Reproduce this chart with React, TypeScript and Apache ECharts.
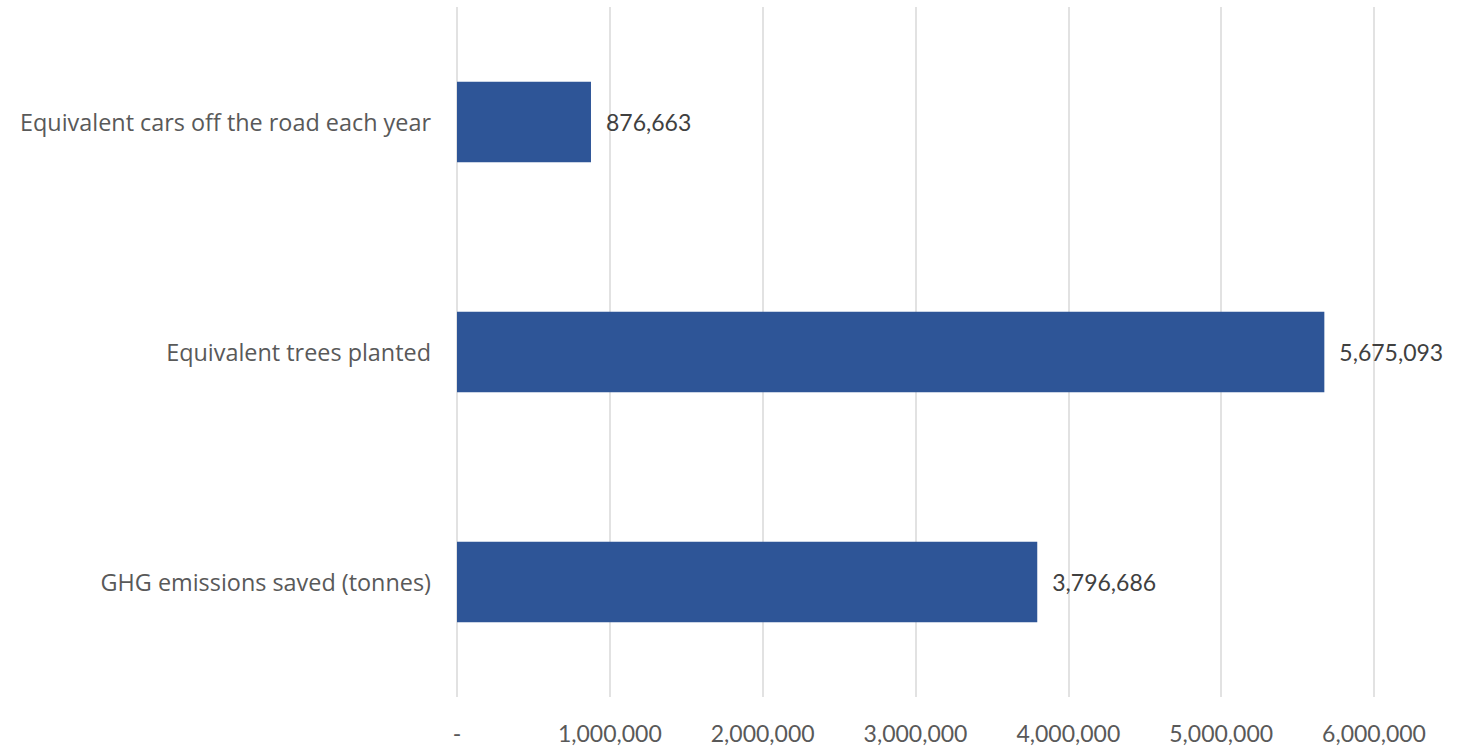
import React, { useEffect, useRef } from "react";
import * as echarts from "echarts";

const categories = [
  "Equivalent cars off the road each year",
  "Equivalent trees planted",
  "GHG emissions saved (tonnes)",
];
const values = [876663, 5675093, 3796686];
const axisMax = 6000000;
const axisInterval = 1000000;

const fmt = (v: number) => (v === 0 ? "-" : Math.round(v).toLocaleString("en-US"));

export default function App() {
  const ref = useRef<HTMLDivElement>(null);
  useEffect(() => {
    if (!ref.current) return;
    const chart = echarts.init(ref.current, undefined, { renderer: "svg" });
    chart.setOption({
      animation: false,
      backgroundColor: "#ffffff",
      grid: { left: 457, right: 89, top: 7, bottom: 50, containLabel: false },
      xAxis: {
        type: "value",
        min: 0,
        max: axisMax,
        interval: axisInterval,
        axisLine: { show: false },
        axisTick: { show: false },
        splitLine: { show: true, lineStyle: { color: "#d9d9d9", width: 1.5 } },
        axisLabel: {
          formatter: (v: number) => fmt(v),
          color: "#595959",
          fontFamily: "Lato",
          fontSize: 23,
          margin: 24,
        },
      },
      yAxis: {
        type: "category",
        data: categories,
        inverse: true,
        axisLine: { show: false },
        axisTick: { show: false },
        axisLabel: {
          color: "#595959",
          fontFamily: "Open Sans",
          fontSize: 23.4,
          margin: 26,
        },
      },
      series: [
        {
          type: "bar",
          data: values,
          barWidth: "35%",
          itemStyle: { color: "#2E5597" },
          label: {
            show: true,
            position: "right",
            distance: 15,
            formatter: (p: any) => fmt(p.value),
            color: "#404040",
            fontFamily: "Lato",
            fontSize: 23,
          },
        },
      ],
    });
    return () => chart.dispose();
  }, []);
  return (
    <div
      ref={ref}
      style={{ position: "fixed", left: 0, top: 0, width: 1463, height: 747 }}
    />
  );
}
